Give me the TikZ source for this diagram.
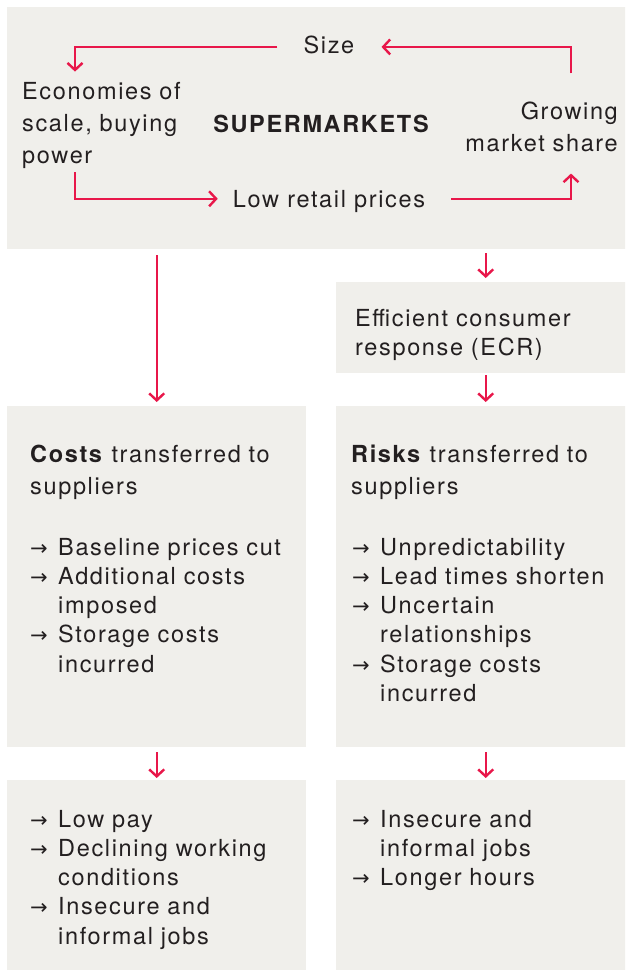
\documentclass[tikz,border=0pt]{standalone}
\usepackage{fontspec}
\setmainfont{TeX Gyre Heros}[LetterSpace=7]
\newfontfamily\arrowfont{DejaVu Sans}
\usepackage{tikz}
\usetikzlibrary{arrows.meta,positioning}
\definecolor{panelgray}{RGB}{240,239,235}
\definecolor{linkred}{RGB}{232,23,74}
\definecolor{ink}{RGB}{35,31,32}
\newcommand{\itm}{\makebox[28pt][l]{\arrowfont\fontsize{21}{21}\selectfont →}}
\newcommand{\cont}{\makebox[28pt][l]{}}

\begin{document}
\begin{tikzpicture}[x=1pt, y=-1pt,
		panel/.style={fill=panelgray, inner sep=0pt, anchor=north west},
		txt/.style={inner sep=0pt, text=ink, font=\fontsize{23.5}{29.3}\selectfont},
		wide/.style={txt, font=\fontsize{23.5}{32}\selectfont},
		link/.style={draw=linkred, line width=2.4pt, -{Straight Barb[length=7pt,width=15pt]}}]
			\clip (0,0) rectangle (625,970);
			\node[panel, minimum width=628pt, minimum height=242pt] (top) at (7,7) {};
			\node[panel, minimum width=299pt, minimum height=91pt] (ecr) at (336,282) {};
			\node[panel, minimum width=299pt, minimum height=341pt] (costs) at (7,406) {};
			\node[panel, minimum width=299pt, minimum height=341pt] (risks) at (336,406) {};
			\node[panel, minimum width=299pt, minimum height=220pt] (payL) at (7,780) {};
			\node[panel, minimum width=299pt, minimum height=220pt] (payR) at (336,780) {};

			\node[txt, anchor=base] (size) at (329,53) {Size};
			\node[wide, anchor=base west, text width=180pt, align=left] (econ) at (22,99) {Economies of\\ scale, buying\\ power};
			\node[txt, anchor=base, font=\fontsize{23.5}{29.3}\selectfont\bfseries] (super) at (321,132) {SUPERMARKETS};
			\node[wide, anchor=base east, text width=170pt, align=right] (grow) at (618,119) {Growing\\ market share};
			\node[txt, anchor=base] (low) at (329,207) {Low retail prices};

			\node[txt, anchor=base west, text width=260pt, align=left] (ecrtext) at (355,326) {Efficient consumer\\ response (ECR)};
			\node[wide, anchor=base west, text width=265pt, align=left] (costshead) at (30,462) {\textbf{Costs} transferred to\\ suppliers};
			\node[txt, anchor=base west, text width=270pt, align=left] (costslist) at (30,555)
				{\itm Baseline prices cut\\ \itm Additional costs\\ \cont imposed\\ \itm Storage costs\\ \cont incurred};
			\node[wide, anchor=base west, text width=265pt, align=left] (riskshead) at (351,462) {\textbf{Risks} transferred to\\ suppliers};
			\node[txt, anchor=base west, text width=270pt, align=left] (riskslist) at (352,555)
				{\itm Unpredictability\\ \itm Lead times shorten\\ \itm Uncertain\\ \cont relationships\\ \itm Storage costs\\ \cont incurred};
			\node[txt, anchor=base west, text width=270pt, align=left] (payLtext) at (30,827)
				{\itm Low pay\\ \itm Declining working\\ \cont conditions\\ \itm Insecure and\\ \cont informal jobs};
			\node[txt, anchor=base west, text width=270pt, align=left] (payRtext) at (352,827)
				{\itm Insecure and\\ \cont informal jobs\\ \itm Longer hours};

			\draw[link] ([xshift=-26pt,yshift=-2.5pt]size.west) -| ([xshift=53pt,yshift=10pt]econ.north west);
			\draw[link] ([xshift=-47pt,yshift=28pt]grow.north east) |- ([xshift=27pt,yshift=-2.5pt]size.east);
			\draw[link] ([xshift=53pt,yshift=-4pt]econ.south west) |- ([xshift=-15pt,yshift=2.2pt]low.west);
			\draw[link] ([xshift=26pt,yshift=2.2pt]low.east) -| ([xshift=-47pt,yshift=-22pt]grow.south east);

			\draw[link] ([yshift=-6pt]top.south -| costs.north) -- ([yshift=4pt]costs.north);
			\draw[link] ([yshift=-4pt]top.south -| ecr.north) -- ([yshift=4pt]ecr.north);
			\draw[link] ([yshift=-2pt]ecr.south) -- ([yshift=4pt]risks.north);
			\draw[link] ([yshift=-5pt]costs.south) -- ([yshift=2pt]payL.north);
			\draw[link] ([yshift=-5pt]risks.south) -- ([yshift=2pt]payR.north);
		\end{tikzpicture}
\end{document}
